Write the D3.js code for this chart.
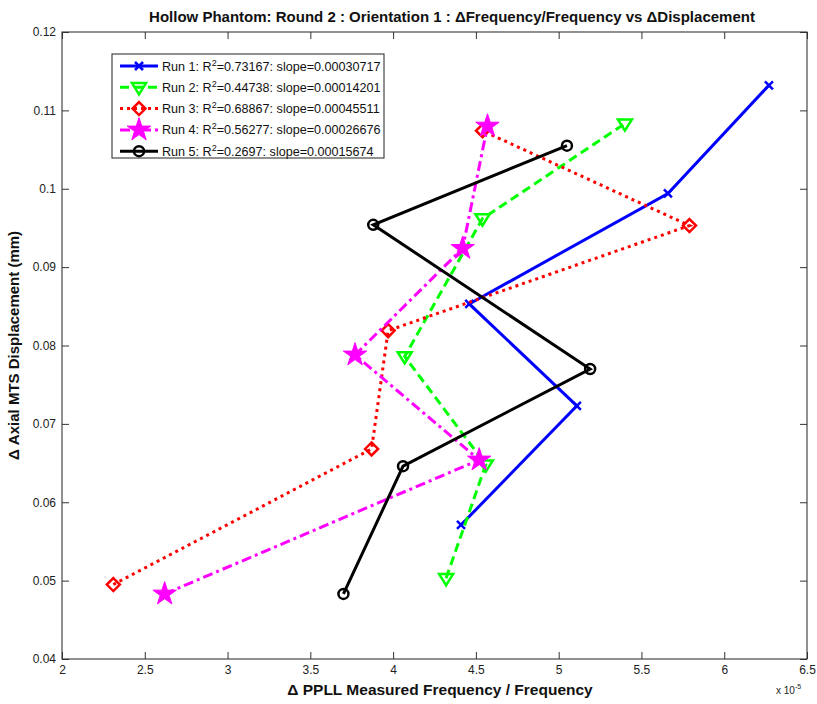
<!DOCTYPE html>
<html>
<head>
<meta charset="utf-8">
<script src="https://cdn.jsdelivr.net/npm/d3@7"></script>
<style>
  body { margin: 0; background: #fff; }
  svg { display: block; font-family: "Liberation Sans", Arial, sans-serif; }
</style>
</head>
<body>
<svg width="817" height="704"></svg>
<script>
const svg = d3.select("svg");

// data (x in units of 1e-5)
const run1X = [4.41, 5.11, 4.46, 5.66, 6.27];
const run1Y = [0.0571, 0.0723, 0.0853, 0.0994, 0.1132];
const run2X = [4.32, 4.56, 4.07, 4.54, 5.40];
const run2Y = [0.0503, 0.0648, 0.0786, 0.0962, 0.1083];
const run3X = [2.31, 3.87, 3.97, 5.79, 4.54];
const run3Y = [0.0495, 0.0668, 0.0819, 0.0953, 0.1074];
const run4X = [2.62, 4.52, 3.77, 4.42, 4.57];
const run4Y = [0.0483, 0.0654, 0.0788, 0.0924, 0.1080];
const run5X = [3.70, 4.06, 5.19, 3.88, 5.05];
const run5Y = [0.0483, 0.0646, 0.0770, 0.0954, 0.1055];

const legendLabels = [
  ["Run 1: R", "=0.73167: slope=0.00030717"],
  ["Run 2: R", "=0.44738: slope=0.00014201"],
  ["Run 3: R", "=0.68867: slope=0.00045511"],
  ["Run 4: R", "=0.56277: slope=0.00026676"],
  ["Run 5: R", "=0.2697: slope=0.00015674"]
];
const xTicks = [2, 2.5, 3, 3.5, 4, 4.5, 5, 5.5, 6, 6.5];
const yTicks = [0.04, 0.05, 0.06, 0.07, 0.08, 0.09, 0.1, 0.11, 0.12];

const plotL = 62, plotR = 807, plotT = 32, plotB = 659;

// scales
const x = d3.scaleLinear().domain([2, 6.5]).range([plotL, plotR]);
const y = d3.scaleLinear().domain([0.04, 0.12]).range([plotB, plotT]);

const series = [
  { xs: run1X, ys: run1Y, color: "#0000ff", dash: null, marker: "x" },
  { xs: run2X, ys: run2Y, color: "#00ff00", dash: "9,5", marker: "tri" },
  { xs: run3X, ys: run3Y, color: "#ff0000", dash: "3,4", marker: "diamond" },
  { xs: run4X, ys: run4Y, color: "#ff00ff", dash: "10,4,3,4", marker: "star" },
  { xs: run5X, ys: run5Y, color: "#000000", dash: null, marker: "circle" }
];

// axes box
svg.append("rect")
  .attr("x", plotL).attr("y", plotT)
  .attr("width", plotR - plotL).attr("height", plotB - plotT)
  .attr("fill", "none").attr("stroke", "#222").attr("stroke-width", 1);

const tickColor = "#333";
const axisBottom = svg.append("g")
  .attr("transform", `translate(0,${plotB})`)
  .call(d3.axisBottom(x).tickValues(xTicks).tickSizeInner(-7).tickSizeOuter(0).tickPadding(6).tickFormat(d3.format("")));
const axisTop = svg.append("g")
  .attr("transform", `translate(0,${plotT})`)
  .call(d3.axisTop(x).tickValues(xTicks).tickSizeInner(-7).tickSizeOuter(0).tickFormat(""));
const axisLeft = svg.append("g")
  .attr("transform", `translate(${plotL},0)`)
  .call(d3.axisLeft(y).tickValues(yTicks).tickSizeInner(-7).tickSizeOuter(0).tickPadding(6).tickFormat(d3.format("")));
const axisRight = svg.append("g")
  .attr("transform", `translate(${plotR},0)`)
  .call(d3.axisRight(y).tickValues(yTicks).tickSizeInner(-7).tickSizeOuter(0).tickFormat(""));

[axisBottom, axisTop, axisLeft, axisRight].forEach(g => {
  g.select(".domain").remove();
  g.selectAll("line").attr("stroke", tickColor);
  g.selectAll("text").attr("fill", "#222").style("font-size", "12px")
    .style("font-family", "'Liberation Sans', Arial, sans-serif");
});

// markers
function drawMarker(g, type, cx, cy, color) {
  if (type === "x") {
    g.append("path")
      .attr("d", `M${cx - 4},${cy - 4}L${cx + 4},${cy + 4}M${cx - 4},${cy + 4}L${cx + 4},${cy - 4}`)
      .attr("stroke", color).attr("stroke-width", 2.5).attr("fill", "none");
  } else if (type === "tri") {
    const r = 7;
    g.append("path")
      .attr("d", `M${cx - r},${cy - r * 0.6}L${cx + r},${cy - r * 0.6}L${cx},${cy + r}Z`)
      .attr("stroke", color).attr("stroke-width", 2.5).attr("fill", "none");
  } else if (type === "diamond") {
    const r = 6.5;
    g.append("path")
      .attr("d", `M${cx},${cy - r}L${cx + r},${cy}L${cx},${cy + r}L${cx - r},${cy}Z`)
      .attr("stroke", color).attr("stroke-width", 2.5).attr("fill", "none");
  } else if (type === "star") {
    g.append("path")
      .attr("d", d3.symbol().type(d3.symbolStar).size(170)())
      .attr("transform", `translate(${cx},${cy})`)
      .attr("fill", color).attr("stroke", color).attr("stroke-width", 1);
  } else if (type === "circle") {
    g.append("circle")
      .attr("cx", cx).attr("cy", cy).attr("r", 5)
      .attr("stroke", color).attr("stroke-width", 2.5).attr("fill", "none");
  }
}

const line = d3.line().x(d => x(d[0])).y(d => y(d[1]));

series.forEach(s => {
  const pts = s.xs.map((v, i) => [v, s.ys[i]]);
  const g = svg.append("g");
  g.append("path")
    .datum(pts)
    .attr("d", line)
    .attr("fill", "none")
    .attr("stroke", s.color)
    .attr("stroke-width", 3)
    .attr("stroke-dasharray", s.dash);
  pts.forEach(p => drawMarker(g, s.marker, x(p[0]), y(p[1]), s.color));
});

// legend
const lg = svg.append("g");
lg.append("rect")
  .attr("x", 112).attr("y", 54).attr("width", 272).attr("height", 104)
  .attr("fill", "#fff").attr("stroke", "#222").attr("stroke-width", 1);
series.forEach((s, i) => {
  const ly = 66 + i * 21.3;
  lg.append("line")
    .attr("x1", 120).attr("x2", 158).attr("y1", ly).attr("y2", ly)
    .attr("stroke", s.color).attr("stroke-width", 3)
    .attr("stroke-dasharray", s.dash);
  drawMarker(lg, s.marker, 139, ly, s.color);
  const t = lg.append("text")
    .attr("x", 162).attr("y", ly + 4.5)
    .attr("fill", "#111").style("font-size", "12.6px");
  t.append("tspan").text(legendLabels[i][0]);
  t.append("tspan").attr("dy", -5).style("font-size", "9px").text("2");
  t.append("tspan").attr("dy", 5).text(legendLabels[i][1]);
});

// title and labels
svg.append("text")
  .attr("x", 452).attr("y", 22)
  .attr("text-anchor", "middle")
  .style("font-size", "15px").style("font-weight", "bold")
  .attr("fill", "#111")
  .text("Hollow Phantom: Round 2 : Orientation 1 : \u0394Frequency/Frequency vs \u0394Displacement");

svg.append("text")
  .attr("x", 440).attr("y", 695)
  .attr("text-anchor", "middle")
  .style("font-size", "15.5px").style("font-weight", "bold")
  .attr("fill", "#111")
  .text("\u0394 PPLL Measured Frequency / Frequency");

svg.append("text")
  .attr("transform", `translate(19,${(plotT + plotB) / 2}) rotate(-90)`)
  .attr("text-anchor", "middle")
  .style("font-size", "15px").style("font-weight", "bold")
  .attr("fill", "#111")
  .text("\u0394 Axial MTS Displacement (mm)");

const ex = svg.append("text")
  .attr("x", 776).attr("y", 694)
  .style("font-size", "10px").attr("fill", "#222");
ex.append("tspan").text("x 10");
ex.append("tspan").attr("dy", -5).style("font-size", "7px").text("-5");
</script>
</body>
</html>
